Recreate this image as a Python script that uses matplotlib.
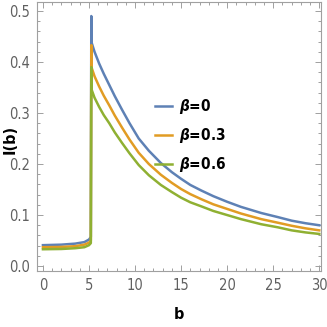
import numpy as np
import matplotlib
matplotlib.use("Agg")
import matplotlib.pyplot as plt
from matplotlib.ticker import MultipleLocator

plt.rcParams['font.family'] = ['DejaVu Sans']
plt.rcParams['font.stretch'] = 'condensed'
plt.rcParams['mathtext.fontset'] = 'dejavusans'

# values
b = [0, 2, 3.5, 4.5, 5.0, 5.2, 5.25, 5.3, 5.6, 6.1, 6.6, 7.2, 7.8, 8.6, 9.4, 10.4, 11.5,
     12.8, 14, 15, 16, 17.2, 18.5, 20, 21.5, 23.7, 25.5, 27, 28.5, 30]
I_b0 = [0.041, 0.042, 0.044, 0.047, 0.052, 0.057, 0.49, 0.437, 0.420, 0.397, 0.377,
        0.355, 0.333, 0.306, 0.280, 0.250, 0.226, 0.202, 0.184, 0.171, 0.159, 0.148,
        0.137, 0.126, 0.116, 0.104, 0.096, 0.089, 0.084, 0.080]
I_b03 = [0.037, 0.0375, 0.039, 0.042, 0.046, 0.050, 0.433, 0.388, 0.372, 0.352, 0.334,
         0.315, 0.295, 0.271, 0.248, 0.222, 0.200, 0.179, 0.163, 0.151, 0.141, 0.131,
         0.121, 0.112, 0.103, 0.092, 0.085, 0.079, 0.074, 0.070]
I_b06 = [0.033, 0.0335, 0.035, 0.037, 0.041, 0.045, 0.39, 0.345, 0.330, 0.312, 0.296,
         0.280, 0.262, 0.241, 0.221, 0.198, 0.178, 0.159, 0.145, 0.134, 0.125, 0.117,
         0.108, 0.100, 0.092, 0.082, 0.076, 0.070, 0.066, 0.063]
labels = [r'$\boldsymbol{\beta}$=0', r'$\boldsymbol{\beta}$=0.3', r'$\boldsymbol{\beta}$=0.6']
colors = ['#5E81B5', '#E19C24', '#8FB032']

fig = plt.figure(figsize=(3.27, 3.27), dpi=100)
ax = fig.add_axes([0.113, 0.171, 0.869, 0.823])

for ys, lab, c in zip([I_b0, I_b03, I_b06], labels, colors):
    ax.plot(b, ys, color=c, lw=1.8, label=lab, solid_joinstyle='round')

ax.set_xlim(-0.65, 30.2)
ax.set_ylim(-0.0098, 0.5176)
ax.xaxis.set_major_locator(MultipleLocator(5))
ax.xaxis.set_minor_locator(MultipleLocator(1))
ax.yaxis.set_major_locator(MultipleLocator(0.1))
ax.yaxis.set_minor_locator(MultipleLocator(0.02))
ax.yaxis.set_major_formatter(matplotlib.ticker.FormatStrFormatter('%.1f'))

gray = '#a0a0a0'
for sp in ax.spines.values():
    sp.set_color(gray)
    sp.set_linewidth(0.8)
ax.tick_params(which='both', direction='in', top=True, right=True, color=gray,
               labelcolor='#606060', labelsize=10.5, width=0.7)
ax.tick_params(which='major', length=4.5, pad=5)
ax.tick_params(which='minor', length=2.5)

ax.set_xlabel('b', fontsize=11.5, fontweight='bold', labelpad=10)
ax.set_ylabel('I(b)', fontsize=11.5, fontweight='bold')
ax.yaxis.set_label_coords(-0.068, 0.49)

leg = ax.legend(loc='upper left', bbox_to_anchor=(0.415, 0.645), frameon=False,
                borderpad=0, borderaxespad=0, handlelength=1.1, handletextpad=0.5,
                labelspacing=0.65, prop={'size': 11, 'weight': 'bold'})

fig.savefig('out.png', dpi=100)
